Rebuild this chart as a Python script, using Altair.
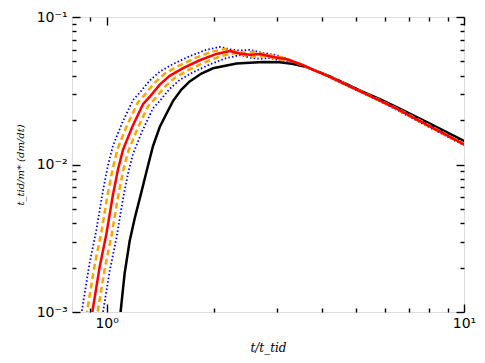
import altair as alt
import pandas as pd

# ---- data (log-log) ----
black_x = [1.090, 1.094, 1.123, 1.160, 1.198, 1.251, 1.305, 1.348, 1.408, 1.469, 1.533, 1.619, 1.708, 1.842,
           1.985, 2.309, 2.741, 3.05, 3.3, 3.548, 3.784, 4.2, 4.692, 5.2, 5.817, 6.5, 7.21, 8.0, 8.94, 10.0, 10.7]
black_y = [0.00092, 0.00100, 0.00183, 0.00303, 0.00430, 0.00650, 0.00980, 0.01330, 0.01796, 0.0220, 0.0269, 0.0322,
           0.0366, 0.0414, 0.0449, 0.0484, 0.0496, 0.0494, 0.0482, 0.0464, 0.0440, 0.0397, 0.0350, 0.0312, 0.0277,
           0.0244, 0.0215, 0.0190, 0.0166, 0.01446, 0.0133]

red_x = [0.906, 0.912, 0.956, 0.998, 1.041, 1.076, 1.111, 1.179, 1.264, 1.319, 1.408, 1.501, 1.636, 1.822, 2.029,
         2.211, 2.358, 2.516, 2.683, 2.923, 3.193, 3.548, 3.784, 4.2, 4.692, 5.2, 5.817, 6.5, 7.21, 8.0, 8.94, 10.0, 10.7]
red_y = [0.00090, 0.00100, 0.00202, 0.00336, 0.00618, 0.00927, 0.01257, 0.01796, 0.02563, 0.0287, 0.0348, 0.0399,
         0.0450, 0.0509, 0.0562, 0.0588, 0.0566, 0.0555, 0.0562, 0.0535, 0.0517, 0.0471, 0.0438, 0.0394, 0.0346,
         0.0308, 0.0271, 0.0238, 0.0208, 0.0182, 0.0158, 0.0137, 0.0126]

orange_hi_x = [0.8772, 0.8830, 0.9256, 0.9663, 1.0079, 1.0418, 1.0757, 1.1416, 1.2239, 1.2771, 1.3633, 1.4533,
               1.5840, 1.7641, 1.9646, 2.1408, 2.2831, 2.4361, 2.5978, 2.8302, 3.0916, 3.4353, 3.6638, 4.0666,
               4.5430, 5.0349, 5.6323, 6.2936, 6.9810, 7.7459, 8.6561, 9.6824, 10.360]
orange_hi_y = [0.000930, 0.001033, 0.002086, 0.003470, 0.006383, 0.009574, 0.012982, 0.018549, 0.026471, 0.029641,
               0.035941, 0.041209, 0.046476, 0.052570, 0.058043, 0.060729, 0.058456, 0.057320, 0.058043, 0.055255,
               0.053396, 0.048645, 0.045237, 0.040692, 0.035735, 0.031810, 0.027989, 0.024581, 0.021482, 0.018797,
               0.016318, 0.014149, 0.013013]

orange_lo_x = [0.9357, 0.9419, 0.9874, 1.0307, 1.0751, 1.1113, 1.1474, 1.2177, 1.3055, 1.3623, 1.4542, 1.5502,
               1.6897, 1.8818, 2.0956, 2.2835, 2.4353, 2.5985, 2.7710, 3.0189, 3.2977, 3.6644, 3.9081, 4.3378,
               4.8459, 5.3706, 6.0078, 6.7132, 7.4465, 8.2624, 9.2332, 10.328, 11.051]
orange_lo_y = [0.000871, 0.000968, 0.001956, 0.003253, 0.005984, 0.008976, 0.012171, 0.017390, 0.024816, 0.027789,
               0.033695, 0.038633, 0.043571, 0.049284, 0.054415, 0.056933, 0.054802, 0.053737, 0.054415, 0.051801,
               0.050058, 0.045604, 0.042409, 0.038149, 0.033501, 0.029822, 0.026240, 0.023044, 0.020139, 0.017622,
               0.015298, 0.013265, 0.012200]

blue_hi_x = [0.8494, 0.8551, 0.8963, 0.9357, 0.9760, 1.0088, 1.0416, 1.1054, 1.1851, 1.2366, 1.3201, 1.4073,
             1.5338, 1.7082, 1.9023, 2.0730, 2.2108, 2.3589, 2.5155, 2.7405, 2.9936, 3.3265, 3.5477, 3.9377,
             4.3990, 4.8753, 5.4538, 6.0941, 6.7598, 7.5005, 8.3818, 9.3756, 10.032]
blue_hi_y = [0.000960, 0.001067, 0.002155, 0.003584, 0.006592, 0.009887, 0.013407, 0.019156, 0.027337, 0.030611,
             0.037118, 0.042557, 0.047997, 0.054290, 0.059943, 0.062716, 0.060370, 0.059196, 0.059943, 0.057063,
             0.055143, 0.050237, 0.046717, 0.042024, 0.036904, 0.032851, 0.028905, 0.025385, 0.022185, 0.019412,
             0.016852, 0.014612, 0.013439]

blue_lo_x = [0.9663, 0.9727, 1.0197, 1.0645, 1.1103, 1.1477, 1.1850, 1.2575, 1.3482, 1.4068, 1.5018, 1.6010,
             1.7450, 1.9433, 2.1641, 2.3583, 2.5150, 2.6836, 2.8617, 3.1177, 3.4057, 3.7843, 4.0360, 4.4797,
             5.0045, 5.5463, 6.2044, 6.9329, 7.6902, 8.5328, 9.5354, 10.666, 11.413]
blue_lo_y = [0.000844, 0.000938, 0.001894, 0.003150, 0.005794, 0.008691, 0.011785, 0.016839, 0.024030, 0.026908,
             0.032627, 0.037409, 0.042190, 0.047722, 0.052691, 0.055128, 0.053066, 0.052034, 0.052691, 0.050159,
             0.048472, 0.044159, 0.041065, 0.036940, 0.032440, 0.028877, 0.025408, 0.022314, 0.019501, 0.017064,
             0.014813, 0.012845, 0.011813]

x_major = [1, 10]
x_minor = [0.9, 2, 3, 4, 5, 6, 7, 8, 9]
y_major = [0.001, 0.01, 0.1]
y_minor = [0.002, 0.003, 0.004, 0.005, 0.006, 0.007, 0.008, 0.009,
           0.02, 0.03, 0.04, 0.05, 0.06, 0.07, 0.08, 0.09]

W, H = 392, 295


def frame(xs, ys):
    return pd.DataFrame({"x": xs, "y": ys, "i": list(range(len(xs)))})


xscale = alt.Scale(type="log", domain=[0.8, 10], nice=False)
yscale = alt.Scale(type="log", domain=[0.001, 0.1], nice=False)


def tick_axis(orient, values, size, offset):
    return alt.Axis(orient=orient, values=values, tickSize=size, offset=offset, labels=False,
                    domain=False, grid=False, title=None, tickColor="black", tickWidth=1.4)


label_x_axis = alt.Axis(orient="bottom", values=x_major, ticks=False, domain=False, grid=False,
                        labelExpr="datum.value < 5 ? '10⁰' : '10¹'", labelFont="DejaVu Sans",
                        labelFontSize=14, labelColor="black", labelPadding=4, labelFlush=False,
                        labelOverlap=False,
                        title="t/t_tid", titleFont="DejaVu Serif", titleFontStyle="italic",
                        titleFontWeight="normal", titleFontSize=12, titleColor="black",
                        titleY=35, titleBaseline="middle")
label_y_axis = alt.Axis(orient="left", values=y_major, ticks=False, domain=False, grid=False,
                        labelExpr="datum.value < 0.005 ? '10⁻³' : datum.value < 0.05 ? '10⁻²' : '10⁻¹'",
                        labelFont="DejaVu Sans", labelFontSize=14, labelColor="black", labelPadding=5,
                        labelFlush=False, labelOverlap=False,
                        title="t_tid/m* (dm/dt)", titleFont="DejaVu Serif", titleFontStyle="italic",
                        titleFontWeight="normal", titleFontSize=10, titleColor="black",
                        titleX=-52, titleY=H / 2, titleAngle=-90, titleBaseline="middle", titleAlign="center")


def line_layer(xs, ys, xaxis, yaxis, **mark):
    return alt.Chart(frame(xs, ys)).mark_line(clip=True, **mark).encode(
        x=alt.X("x:Q", scale=xscale, axis=xaxis),
        y=alt.Y("y:Q", scale=yscale, axis=yaxis),
        order="i:Q",
    )


black = line_layer(black_x, black_y, label_x_axis, label_y_axis, color="black", strokeWidth=2.5)
blue_hi = line_layer(blue_hi_x, blue_hi_y,
                     tick_axis("top", x_major, 8, -H), tick_axis("right", y_major, 8, -W),
                     color="#0000ff", strokeWidth=1.8, strokeDash=[1.5, 2.2])
blue_lo = line_layer(blue_lo_x, blue_lo_y,
                     tick_axis("top", x_minor, 4, -H), tick_axis("right", y_minor, 4, -W),
                     color="#0000ff", strokeWidth=1.8, strokeDash=[1.5, 2.2])
orange_hi = line_layer(orange_hi_x, orange_hi_y,
                       tick_axis("bottom", x_major, 8, -H), tick_axis("left", y_major, 8, -W),
                       color="orange", strokeWidth=2.5, strokeDash=[6, 3.5])
orange_lo = line_layer(orange_lo_x, orange_lo_y,
                       tick_axis("bottom", x_minor, 4, -H), tick_axis("left", y_minor, 4, -W),
                       color="orange", strokeWidth=2.5, strokeDash=[6, 3.5])
red = line_layer(red_x, red_y, None, None, color="#ff0000", strokeWidth=2.5)

chart = alt.layer(black, blue_hi, blue_lo, orange_hi, orange_lo, red).resolve_axis(
    x="independent", y="independent"
).properties(
    width=W, height=H,
    autosize=alt.AutoSizeParams(type="none"),
    padding={"left": 64, "top": 9, "right": 13, "bottom": 46},
).configure_view(stroke="black", strokeWidth=1.5).configure(background="white")

chart.save("out.html", embed_options={"renderer": "svg", "actions": False})
